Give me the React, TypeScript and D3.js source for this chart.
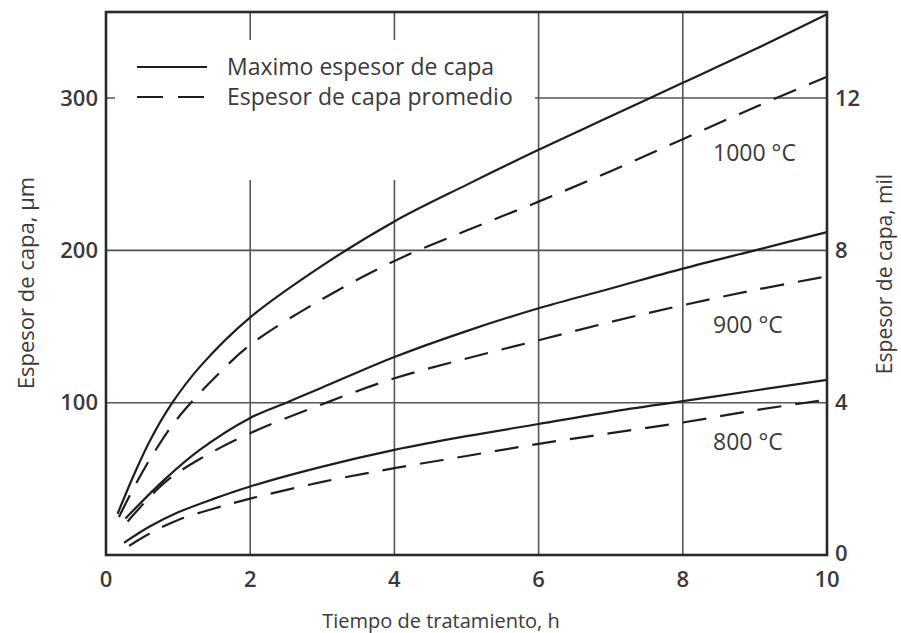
import React from "react";
import * as d3 from "d3";

// Data (hours, µm)
const h1000Max = [0.16, 0.4, 0.62, 0.92, 1.31, 2, 3, 4, 5, 6, 7, 8, 9, 10];
const v1000Max = [27, 54, 76, 100, 124, 156, 190, 219, 243, 266, 288, 310, 332, 355];
const h1000Avg = [0.18, 0.35, 0.5, 0.65, 0.9, 1.14, 1.5, 2, 3, 4, 5, 6, 7, 8, 9, 10];
const v1000Avg = [25, 41, 54, 66, 84, 98, 116, 138, 168, 193, 213, 232, 252, 273, 294, 314];
const h900Max = [0.27, 0.8, 1.3, 2, 2.5, 3, 4, 5, 6, 7, 8, 9, 10];
const v900Max = [24, 49, 69, 90, 100, 110, 130, 147, 162, 175, 188, 200, 212];
const h900Avg = [0.3, 0.8, 1.3, 2, 3, 4, 5, 6, 7, 8, 9, 10];
const v900Avg = [22, 47, 63, 80, 99, 116, 129, 141, 153, 164, 174, 183];
const h800Max = [0.25, 0.6, 1, 1.5, 2, 3, 4, 5, 6, 7, 8, 9, 10];
const v800Max = [8, 18.5, 28, 37, 45, 58, 69, 78, 86, 94, 101, 108, 115];
const h800Avg = [0.32, 0.6, 1, 1.5, 2, 3, 4, 5, 6, 7, 8, 9, 10];
const v800Avg = [6, 14, 23, 30.5, 37, 48, 57, 65, 73, 80, 87, 95, 102];

const xTicks = [0, 2, 4, 6, 8, 10];
const yTicks = [100, 200, 300];
const yMilTicks = [0, 4, 8, 12];
const tempLabels = ["1000 °C", "900 °C", "800 °C"];
const tempLabelValues = [264, 151, 74];
const legendLabels = ["Maximo espesor de capa", "Espesor de capa promedio"];

const W = 901;
const H = 633;
const left = 106, right = 827, top = 12, bottom = 555;
const yMax = 356.5;
const FONT = "'Open Sans', sans-serif";

export default function App() {
  const x = d3.scaleLinear().domain([0, 10]).range([left, right]);
  const y = d3.scaleLinear().domain([0, yMax]).range([bottom, top]);
  const yMil = d3.scaleLinear().domain([0, yMax / 25]).range([bottom, top]);
  const line = d3
    .line<[number, number]>()
    .x((d) => x(d[0]))
    .y((d) => y(d[1]))
    .curve(d3.curveCatmullRom.alpha(0.5));
  const zip = (a: number[], b: number[]) => a.map((v, i) => [v, b[i]] as [number, number]);

  const series = [
    { pts: zip(h1000Max, v1000Max), dash: false },
    { pts: zip(h1000Avg, v1000Avg), dash: true },
    { pts: zip(h900Max, v900Max), dash: false },
    { pts: zip(h900Avg, v900Avg), dash: true },
    { pts: zip(h800Max, v800Max), dash: false },
    { pts: zip(h800Avg, v800Avg), dash: true },
  ];

  const gridColor = "#555";
  const lineColor = "#1e1e1e";
  const textColor = "#3a3a3a";

  return (
    <svg width={W} height={H} style={{ position: "absolute", left: 0, top: 0, background: "#fff" }}>
      <rect x={0} y={0} width={W} height={H} fill="#fff" />
      {/* grid */}
      {xTicks.slice(1, -1).map((t) => (
        <line key={"gx" + t} x1={x(t)} x2={x(t)} y1={top} y2={bottom} stroke={gridColor} strokeWidth={1.6} />
      ))}
      {yTicks.map((t) => (
        <line key={"gy" + t} x1={left} x2={right} y1={y(t)} y2={y(t)} stroke={gridColor} strokeWidth={1.6} />
      ))}
      {/* legend background */}
      <rect x={115} y={40} width={420} height={140} fill="#fff" />
      {/* curves */}
      {series.map((s, i) => (
        <path
          key={i}
          d={line(s.pts) || ""}
          fill="none"
          stroke={lineColor}
          strokeWidth={2.2}
          strokeDasharray={s.dash ? "24 14" : undefined}
        />
      ))}
      {/* frame */}
      <rect x={left} y={top} width={right - left} height={bottom - top} fill="none" stroke="#2a2a2a" strokeWidth={2.6} />
      {/* legend */}
      <line x1={137} x2={207} y1={67} y2={67} stroke={lineColor} strokeWidth={2.2} />
      <line x1={137} x2={207} y1={97} y2={97} stroke={lineColor} strokeWidth={2.2} strokeDasharray="26 15" />
      {legendLabels.map((l, i) => (
        <text key={l} x={227} y={67 + i * 30} dy="0.35em" fontFamily={FONT} fontSize={23} fill={textColor}>
          {l}
        </text>
      ))}
      {/* x tick labels */}
      {xTicks.map((t) => (
        <text key={"xt" + t} x={x(t)} y={579} dy="0.35em" textAnchor="middle" fontFamily={FONT} fontSize={22} fontWeight={600} fill={textColor}>
          {t}
        </text>
      ))}
      {/* left tick labels */}
      {yTicks.map((t) => (
        <text key={"yt" + t} x={98} y={y(t)} dy="0.35em" textAnchor="end" fontFamily={FONT} fontSize={22} fontWeight={600} fill={textColor}>
          {t}
        </text>
      ))}
      {/* right tick labels */}
      {yMilTicks.map((t) => (
        <text key={"ym" + t} x={835} y={t === 0 ? yMil(t) - 2 : yMil(t)} dy="0.35em" textAnchor="start" fontFamily={FONT} fontSize={22} fontWeight={600} fill={textColor}>
          {t}
        </text>
      ))}
      {/* temperature labels */}
      {tempLabels.map((l, i) => (
        <text key={l} x={713} y={y(tempLabelValues[i])} dy="0.35em" fontFamily={FONT} fontSize={23} fill={textColor}>
          {l}
        </text>
      ))}
      {/* axis titles */}
      <text x={441} y={621} dy="0.35em" textAnchor="middle" fontFamily={FONT} fontSize={20} fill={textColor}>
        Tiempo de tratamiento, h
      </text>
      <text
        transform={`translate(26, ${283}) rotate(-90)`}
        dy="0.35em"
        textAnchor="middle"
        fontFamily={FONT}
        fontSize={22}
        fill={textColor}
      >
        Espesor de capa, µm
      </text>
      <text
        transform={`translate(885, ${274}) rotate(-90)`}
        dy="0.35em"
        textAnchor="middle"
        fontFamily={FONT}
        fontSize={21}
        fill={textColor}
      >
        Espesor de capa, mil
      </text>
    </svg>
  );
}
